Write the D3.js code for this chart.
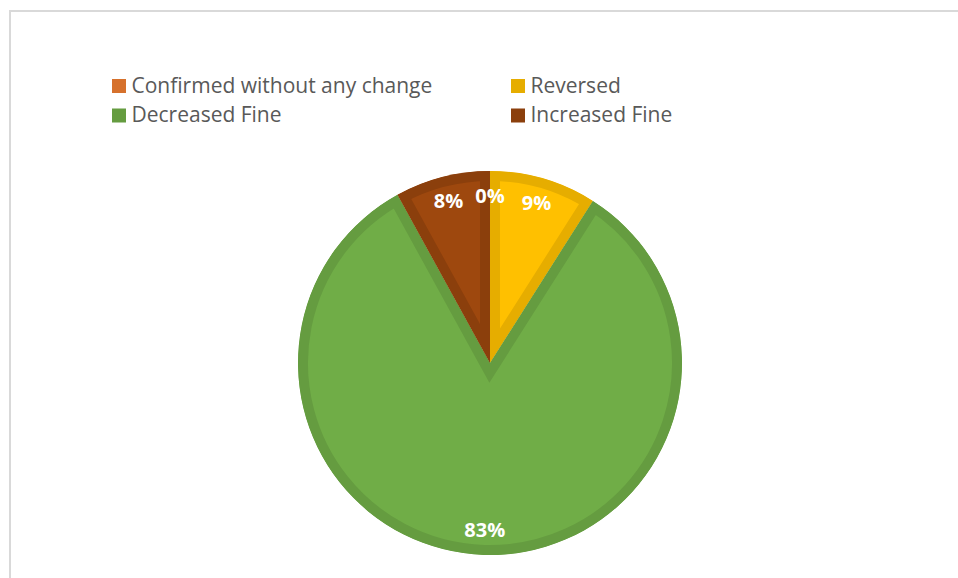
<!DOCTYPE html>
<html><head><meta charset="utf-8">
<script src="https://cdn.jsdelivr.net/npm/d3@7"></script>
<style>body{margin:0;background:#fff}svg{display:block}</style>
</head><body>
<svg id="c" width="958" height="578"></svg>
<script>
const categories = ["Confirmed without any change","Reversed","Decreased Fine","Increased Fine"];
const values = [0, 9, 83, 8];
const labels = ["0%","9%","83%","8%"];
const fills = ["#ED7D31","#FFC000","#70AD47","#9E480E"];
const borders = ["#D6712C","#E6AD00","#659C40","#8B3F0C"];

const svg = d3.select("#c");
// frame
svg.append("path").attr("d","M10,578 V11 H958").attr("fill","none").attr("stroke","#d9d9d9").attr("stroke-width",2);

const cx = 490, cy = 363, R = 192, labelR = 167;
const pie = d3.pie().sort(null).value(d=>d)(values);
const arc = d3.arc().innerRadius(0).outerRadius(R);
const g = svg.append("g").attr("transform",`translate(${cx},${cy})`);
const defs = svg.append("defs");
pie.forEach((p,i)=>{
  if (p.endAngle - p.startAngle <= 0) return;
  defs.append("clipPath").attr("id","cl"+i).append("path").attr("d",arc(p));
  g.append("path").attr("d",arc(p)).attr("fill",fills[i]).attr("stroke",borders[i])
   .attr("stroke-width",20).attr("stroke-linejoin","miter").attr("clip-path",`url(#cl${i})`);
});
const lArc = d3.arc().innerRadius(labelR).outerRadius(labelR);
pie.forEach((p,i)=>{
  const [x,y] = lArc.centroid(p);
  g.append("text").attr("x",x).attr("y",y).attr("dy","0.36em").attr("text-anchor","middle")
   .attr("font-family","Open Sans, sans-serif").attr("font-weight","bold").attr("font-size",20)
   .attr("fill","#fff").text(labels[i]);
});
// legend
const legX = [112, 511], legY = [79, 108.5];
categories.forEach((c,i)=>{
  const x = legX[i%2], y = legY[Math.floor(i/2)];
  svg.append("rect").attr("x",x).attr("y",y).attr("width",14).attr("height",14).attr("fill",borders[i]);
  svg.append("text").attr("x",x+19.5).attr("y",y+13.5).attr("font-family","Open Sans, sans-serif")
   .attr("font-size",21).attr("fill","#595959").text(c);
});
</script>
</body></html>
